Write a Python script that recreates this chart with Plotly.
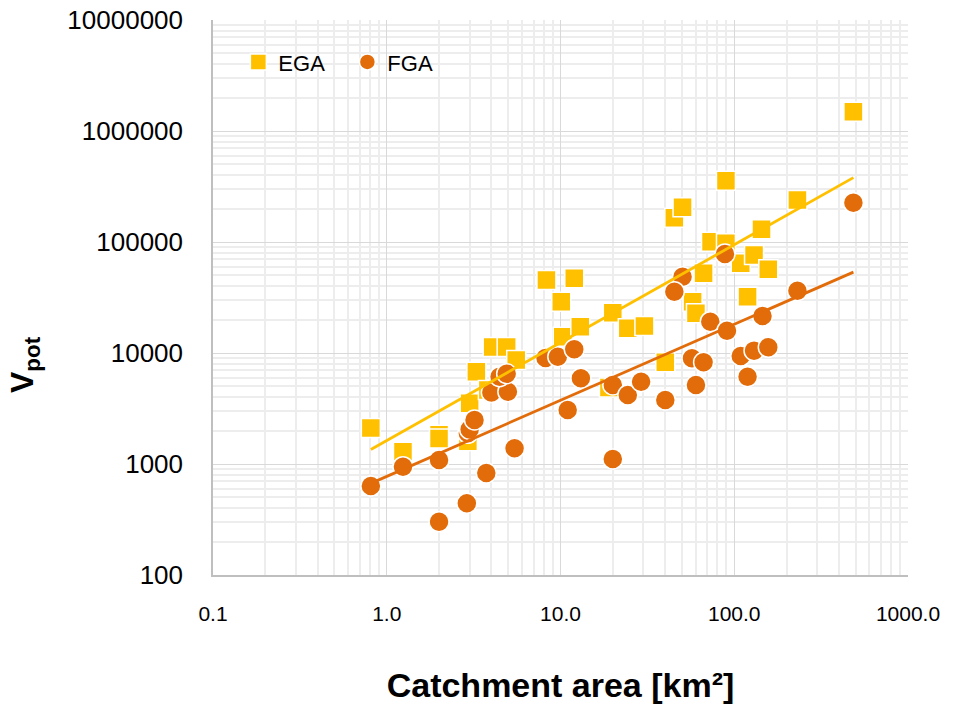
import numpy as np
import plotly.graph_objects as go

# ---------------- data ----------------
ega_area = [0.81, 1.24, 2.0, 2.0, 2.93, 3.0, 3.28, 3.82, 4.07, 4.9, 5.56,
            8.3, 10.1, 12.0, 10.3, 13.0, 19.0, 20.0, 24.4, 30.4, 40.1,
            45.2, 50.4, 57.6, 60.2, 66.6, 73.5, 89.6, 89.6, 109, 130,
            157, 119.3, 143.5, 231, 485]
ega_vpot = [2110, 1290, 1830, 1700, 1600, 3520, 6790, 4640, 11320, 11320, 8650,
            45500, 29000, 47100, 14030, 17260, 4900, 23070, 16680, 17500, 8250,
            165600, 205400, 29000, 22780, 52200, 100700, 357000, 97300, 64300, 76400,
            56700, 32150, 130000, 239000, 1490000]

fga_area = [0.81, 1.24, 2.0, 2.0, 2.89, 3.74, 2.93, 3.0, 3.2, 4.0, 4.98,
            4.46, 4.9, 5.44, 8.2, 9.65, 11.0, 12.0, 13.1, 20.0, 24.4,
            29.1, 40.1, 20.0, 50.4, 45.2, 72.8, 90.8, 57.1, 66.6, 60.2,
            109, 130, 157, 119.3, 145.4, 231, 485, 88.4]
fga_vpot = [634, 946, 1085, 302, 443, 830, 1890, 2050, 2490, 4400, 4480,
            6120, 6500, 1385, 9000, 9260, 3065, 10800, 5920, 5150, 4185,
            5515, 3775, 1109, 48700, 35660, 19140, 15880, 8960, 8250, 5150,
            9400, 10500, 11250, 6120, 21550, 36400, 226000, 78000]

x_tickvals = [0.1, 1, 10, 100, 1000]
x_ticktext = ["0.1", "1.0", "10.0", "100.0", "1000.0"]
y_tickvals = [100, 1000, 10000, 100000, 1000000, 10000000]
y_ticktext = ["100", "1000", "10000", "100000", "1000000", "10000000"]

EGA_COLOR = "#FFC000"
FGA_COLOR = "#E36C0A"
FONT = "Liberation Sans, Arial, sans-serif"


def power_fit(x, y):
    lx, ly = np.log10(x), np.log10(y)
    b, la = np.polyfit(lx, ly, 1)
    xs = np.logspace(lx.min(), lx.max(), 60)
    return xs, 10 ** la * xs ** b


fig = go.Figure()

fig.add_trace(go.Scatter(
    x=ega_area, y=ega_vpot, mode="markers", name="EGA",
    marker=dict(symbol="square", size=19, color=EGA_COLOR,
                line=dict(color="white", width=1.5))))
fig.add_trace(go.Scatter(
    x=fga_area, y=fga_vpot, mode="markers", name="FGA",
    marker=dict(symbol="circle", size=20, color=FGA_COLOR,
                line=dict(color="white", width=1.5))))

for xs_, ys_, col in [(ega_area, ega_vpot, EGA_COLOR), (fga_area, fga_vpot, FGA_COLOR)]:
    fx, fy = power_fit(np.array(xs_, float), np.array(ys_, float))
    fig.add_trace(go.Scatter(x=fx, y=fy, mode="lines", showlegend=False,
                             hoverinfo="skip", line=dict(color=col, width=2.8)))

minor_x = [m * 10.0 ** e for e in range(-1, 3) for m in range(2, 10)]
minor_y = [m * 10.0 ** e for e in range(2, 7) for m in range(2, 10)]

fig.update_xaxes(
    type="log", range=[-1, 3], automargin=False,
    tickmode="array", tickvals=x_tickvals, ticktext=x_ticktext,
    showgrid=True, gridcolor="#D9D9D9", gridwidth=1,
    minor=dict(tickmode="array", tickvals=minor_x, showgrid=True,
               gridcolor="#EDEDED", gridwidth=1.5, ticks=""),
    showline=True, linecolor="#BFBFBF", linewidth=1.5, zeroline=False,
    ticks="", ticklabelstandoff=19, ticklabeloverflow="allow",
    tickfont=dict(family=FONT, size=21, color="#000000"),
    title=dict(text="<b>Catchment area [km²]</b>", standoff=52,
               font=dict(family=FONT, size=34, color="#000000")),
)
fig.update_yaxes(
    type="log", range=[2, 7], automargin=False,
    tickmode="array", tickvals=y_tickvals, ticktext=y_ticktext,
    showgrid=True, gridcolor="#D9D9D9", gridwidth=1,
    minor=dict(tickmode="array", tickvals=minor_y, showgrid=True,
               gridcolor="#EDEDED", gridwidth=1.5, ticks=""),
    showline=True, linecolor="#BFBFBF", linewidth=1.5, zeroline=False,
    ticks="", ticklabelstandoff=23, ticklabeloverflow="allow",
    tickfont=dict(family=FONT, size=26, color="#000000"),
)

fig.update_layout(
    width=955, height=704,
    margin=dict(l=213, r=47, t=20, b=129, autoexpand=False),
    paper_bgcolor="white", plot_bgcolor="white",
    showlegend=True,
    legend=dict(orientation="h", x=0.0365, y=0.924, xanchor="left", yanchor="middle",
                bgcolor="rgba(0,0,0,0)", entrywidth=64, entrywidthmode="pixels",
                font=dict(family=FONT, size=22, color="#000000")),
    shapes=[dict(type="rect", xref="paper", yref="paper", x0=0.0, x1=0.351,
                 y0=0.856, y1=1.0, fillcolor="white", line=dict(width=0),
                 layer="between")],
    annotations=[dict(text="<b>V<sub>pot</sub></b>", xref="paper", yref="paper",
                      x=-0.272, y=0.38, xanchor="center", yanchor="middle",
                      textangle=-90, showarrow=False,
                      font=dict(family=FONT, size=32, color="#000000"))],
)

# remove the default 8 px page margin so the 955x704 figure fills the window exactly
fig.write_html("out.html", config={"displayModeBar": False},
               post_script="document.body.style.margin='0';document.body.style.overflow='hidden';")
